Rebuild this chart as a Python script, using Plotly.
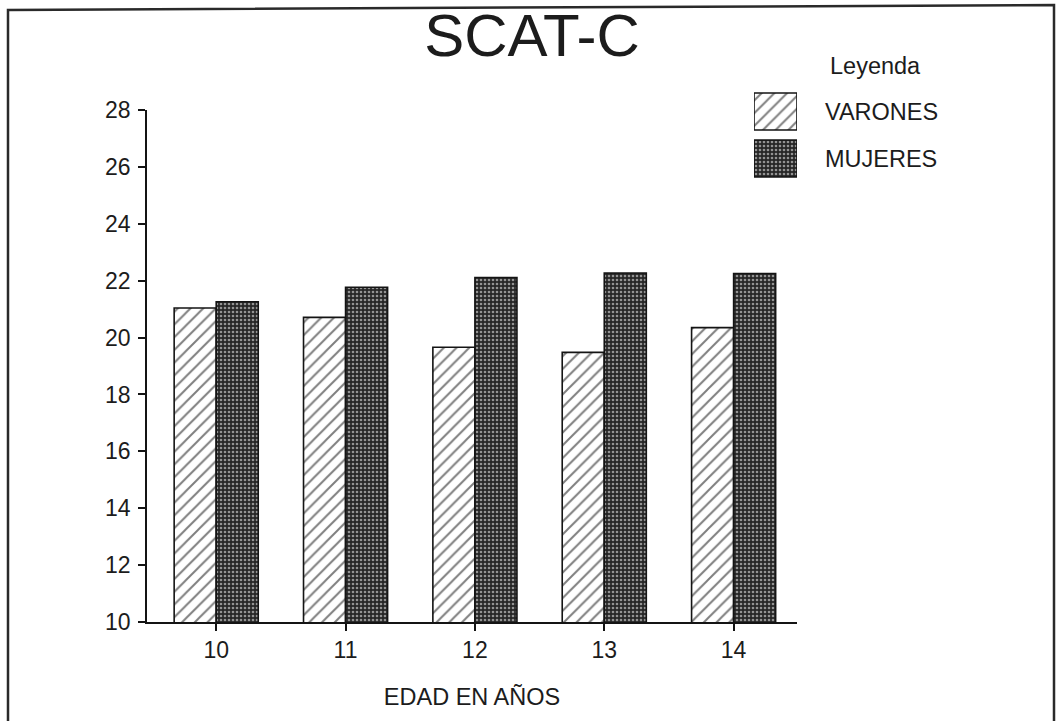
import plotly.graph_objects as go

# ---- data ----
ages = ["10", "11", "12", "13", "14"]
varones = [21.04, 20.71, 19.66, 19.48, 20.35]
mujeres = [21.26, 21.77, 22.11, 22.27, 22.25]
series_names = ["VARONES", "MUJERES"]
y_ticks = [10, 12, 14, 16, 18, 20, 22, 24, 26, 28]
title_text = "SCAT-C"
x_title = "EDAD EN AÑOS"
legend_title = "Leyenda"

W, H = 1059, 721
FONT = "Liberation Sans, Arial, Helvetica, sans-serif"
INK = "#1c1c1c"

def px_x(p):
    return p / W

def px_y(p):
    return 1 - p / H

pat_v = dict(shape="/", fgcolor="#000000", bgcolor="white", size=9, solidity=0.22)
pat_m = dict(shape=".", fgcolor="white", bgcolor="#262626", size=4, solidity=0.35)
line_style = dict(color="#141414", width=1.6)

fig = go.Figure()
fig.add_trace(go.Bar(x=ages, y=varones, name=series_names[0], offsetgroup="v",
                     marker=dict(color="white", pattern=pat_v, line=line_style),
                     showlegend=False))
fig.add_trace(go.Bar(x=ages, y=mujeres, name=series_names[1], offsetgroup="m",
                     marker=dict(color="#262626", pattern=pat_m, line=line_style),
                     showlegend=False))

# legend key swatches drawn on a small auxiliary axis pair
fig.add_trace(go.Bar(y=[series_names[0]], x=[1], orientation="h", xaxis="x2", yaxis="y2",
                     offsetgroup="leg", width=0.79, hoverinfo="skip",
                     marker=dict(color="white", pattern=pat_v, line=line_style),
                     showlegend=False))
fig.add_trace(go.Bar(y=[series_names[1]], x=[1], orientation="h", xaxis="x2", yaxis="y2",
                     offsetgroup="leg", width=0.79, hoverinfo="skip",
                     marker=dict(color="#262626", pattern=pat_m, line=line_style),
                     showlegend=False))

tickfont = dict(family=FONT, size=23, color=INK)
legfont = dict(family=FONT, size=23.5, color=INK)

fig.update_layout(
    width=W, height=H,
    margin=dict(l=0, r=0, t=0, b=0),
    paper_bgcolor="white", plot_bgcolor="white",
    barmode="group", bargap=0.35, bargroupgap=0,
    font=dict(family=FONT, color=INK),
    title=dict(text=title_text, x=px_x(532), xanchor="center",
               y=px_y(35), yanchor="middle", yref="container",
               font=dict(family=FONT, size=60, color=INK)),
    xaxis=dict(domain=[px_x(147), px_x(797)], type="category",
               categoryorder="array", categoryarray=ages,
               range=[-0.535, 4.49], showline=True, linecolor="#141414", linewidth=1.6,
               ticks="outside", ticklen=7, tickwidth=1.6, tickcolor="#141414",
               showgrid=False, zeroline=False, tickfont=tickfont, automargin=False,
               title=dict(text=x_title, standoff=26,
                          font=dict(family=FONT, size=23.5, color=INK))),
    yaxis=dict(domain=[px_y(622), px_y(110)], range=[10, 28],
               tickvals=y_ticks, showline=True, linecolor="#141414", linewidth=1.6,
               ticks="outside", ticklen=7, tickwidth=1.6, tickcolor="#141414",
               showgrid=False, zeroline=False, tickfont=tickfont, automargin=False,
               ticklabelstandoff=3),
    xaxis2=dict(domain=[px_x(754), px_x(797)], anchor="y2", range=[0, 1],
                visible=False, fixedrange=True),
    yaxis2=dict(domain=[px_y(182), px_y(88)], anchor="x2", side="right",
                type="category", categoryorder="array", categoryarray=series_names,
                autorange="reversed", showline=False, showgrid=False, zeroline=False,
                ticks="", ticklabelstandoff=27, automargin=False, fixedrange=True,
                tickfont=legfont),
    annotations=[dict(text=legend_title, xref="paper", yref="paper",
                      x=px_x(828), y=px_y(66), xanchor="left", yanchor="middle",
                      showarrow=False, font=legfont)],
    shapes=[dict(type="path", xref="paper", yref="paper",
                 path=f"M {px_x(8)},{px_y(730)} L {px_x(8)},{px_y(10)} "
                      f"L {px_x(1054)},{px_y(5)} L {px_x(1054)},{px_y(730)}",
                 line=dict(color="#2a2a2a", width=2.5))],
)

fig.write_html("out.html")
